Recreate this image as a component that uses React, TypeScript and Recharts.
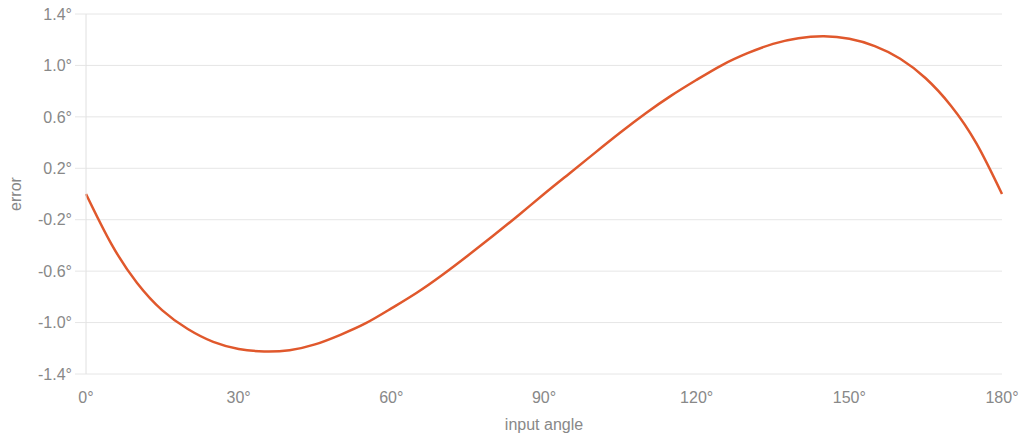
import {
  LineChart,
  Line,
  XAxis,
  YAxis,
  CartesianGrid,
} from 'recharts';

const angles = [
  0, 5, 10, 15, 20, 25, 30, 35, 40, 45, 50, 55, 60, 65, 70, 75, 80, 85, 90,
  95, 100, 105, 110, 115, 120, 125, 130, 135, 140, 145, 150, 155, 160, 165,
  170, 175, 180,
];

const errors = [
  0, -0.39, -0.69, -0.905, -1.05, -1.15, -1.205, -1.225, -1.215, -1.17,
  -1.095, -1.005, -0.89, -0.768, -0.63, -0.48, -0.325, -0.165, 0, 0.16, 0.32,
  0.478, 0.628, 0.765, 0.888, 1.003, 1.095, 1.168, 1.212, 1.226, 1.207, 1.15,
  1.052, 0.9, 0.685, 0.392, 0,
];

const xTicks = [0, 30, 60, 90, 120, 150, 180];
const yTicks = [-1.4, -1.0, -0.6, -0.2, 0.2, 0.6, 1.0, 1.4];

const data = angles.map((angle, i) => ({ angle, error: errors[i] }));

const tickStyle = {
  fill: '#888888',
  fontSize: 16,
  fontFamily: '"Liberation Sans", Arial, sans-serif',
};

export default function App() {
  return (
    <div style={{ position: 'absolute', left: 0, top: 0 }}>
      <LineChart
        width={1024}
        height={445}
        data={data}
        margin={{ top: 14, right: 22, left: 0, bottom: 0 }}
      >
        <CartesianGrid vertical={false} stroke="#e6e6e6" />
        <XAxis
          dataKey="angle"
          type="number"
          domain={[0, 180]}
          ticks={xTicks}
          height={71}
          axisLine={false}
          tickLine={false}
          tickSize={0}
          tickMargin={18}
          tick={tickStyle}
          tickFormatter={(v: number) => `${v}°`}
          label={{
            value: 'input angle',
            position: 'insideBottom',
            offset: 15,
            style: tickStyle,
          }}
        />
        <YAxis
          type="number"
          domain={[-1.4, 1.4]}
          ticks={yTicks}
          width={86}
          axisLine={{ stroke: '#e0e0e0' }}
          tickLine={{ stroke: '#e6e6e6' }}
          tickSize={11}
          tickMargin={3}
          tick={tickStyle}
          tickFormatter={(v: number) => `${v.toFixed(1)}°`}
          label={{
            value: 'error',
            angle: -90,
            position: 'insideLeft',
            offset: 15,
            style: { ...tickStyle, textAnchor: 'middle' },
          }}
        />
        <Line
          type="natural"
          dataKey="error"
          stroke="#e0582c"
          strokeWidth={2.5}
          dot={false}
          isAnimationActive={false}
        />
      </LineChart>
    </div>
  );
}
